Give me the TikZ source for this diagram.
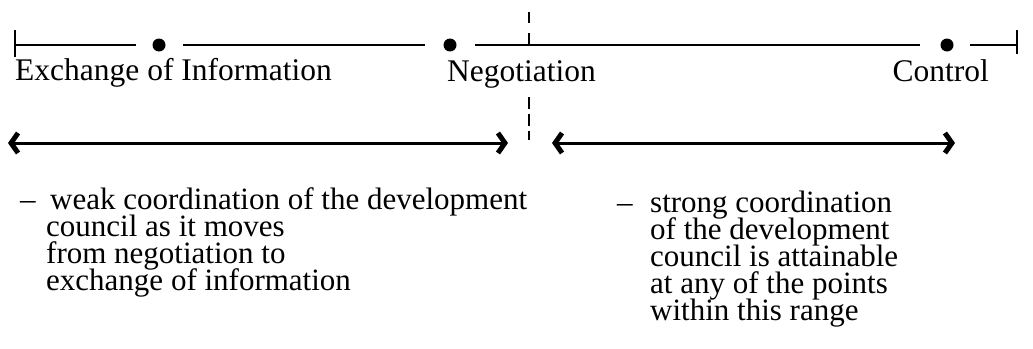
\documentclass[tikz,border=0pt]{standalone}
\usepackage{fontspec}
\setmainfont{Liberation Serif}
\usetikzlibrary{arrows.meta}
\begin{document}
\begin{tikzpicture}[x=1pt,y=-1pt,
  axis/.style={line width=2.6pt},
  dotnode/.style={circle,fill=black,inner sep=0pt,minimum size=13pt},
  endbar/.style={line width=2.6pt},
  lbl/.style={inner sep=0pt,font=\fontsize{31.5}{27}\selectfont},
  spanarrow/.style={line width=3pt,{Straight Barb[length=7pt,width=20pt,line width=5pt]}-{Straight Barb[length=7pt,width=20pt,line width=5pt]}},
  divider/.style={line width=2.4pt,dash pattern=on 11pt off 10pt},
  note/.style={inner sep=0pt,anchor=base west,font=\fontsize{31}{27}\selectfont}]
\useasboundingbox (0,0) rectangle (1033,348);
% end bars
\coordinate (L0) at (15,45);
\coordinate (R0) at (1017,45);
\draw[endbar] (15,30) -- (15,57);
\draw[endbar] (1017,30) -- (1017,54);
% dots
\node[dotnode] (d1) at (159,45) {};
\node[dotnode] (d2) at (450,45) {};
\node[dotnode] (d3) at (947,45) {};
% segments
\coordinate (s1) at (136,45);
\coordinate (s2a) at (183,45);
\coordinate (s2b) at (425,45);
\coordinate (s3a) at (475,45);
\coordinate (s3b) at (920,45);
\coordinate (s4a) at (970,45);
\draw[axis] (L0) -- (s1);
\draw[axis] (s2a) -- (s2b);
\draw[axis] (s3a) -- (s3b);
\draw[axis] (s4a) -- (R0);
% labels
\node[lbl,anchor=base west] (ex) at (15,80) {Exchange of Information};
\node[lbl,anchor=base west] (ng) at (447,81) {Negotiation};
\node[lbl,anchor=base east] (ct) at (989,81) {Control};
% divider
\coordinate (v1) at (529,12);
\coordinate (v2) at (529,46);
\coordinate (v3) at (529,97);
\coordinate (v4) at (529,140);
\draw[divider] (v1) -- (v2);
\draw[line width=2.4pt,dash pattern=on 12pt off 5pt] (v3) -- (v4);
% ranges
\coordinate (a1) at (8,143);
\coordinate (a2) at (508,143);
\coordinate (a3) at (552,143);
\coordinate (a4) at (955,143);
\draw[spanarrow] (a1) -- (a2);
\draw[spanarrow] (a3) -- (a4);
% left note
\node[note] (n1d) at (20,209) {--};
\node[note] (n1a) at (50,209) {weak coordination of the development};
\node[note] (n1b) at (46,236) {council as it moves};
\node[note] (n1c) at (46,263) {from negotiation to};
\node[note] (n1e) at (46,290) {exchange of information};
% right note
\node[note] (n2d) at (617,212) {--};
\node[note] (n2a) at (650,212) {strong coordination};
\node[note] (n2b) at (650,239) {of the development};
\node[note] (n2c) at (650,266) {council is attainable};
\node[note] (n2e) at (650,293) {at any of the points};
\node[note] (n2f) at (650,320) {within this range};
\end{tikzpicture}
\end{document}
